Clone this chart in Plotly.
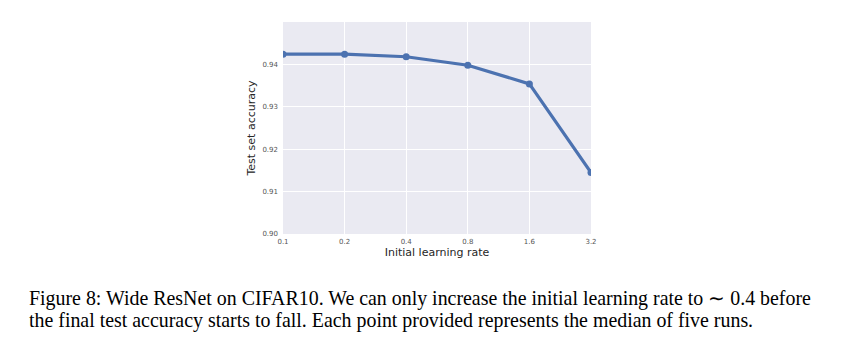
import plotly.graph_objects as go

# Median test accuracy over five runs for each initial learning rate
learning_rates = [0.1, 0.2, 0.4, 0.8, 1.6, 3.2]
test_accuracy = [0.9424, 0.9424, 0.9418, 0.9398, 0.9354, 0.9145]
x_tick_labels = ["0.1", "0.2", "0.4", "0.8", "1.6", "3.2"]
y_tick_values = [0.90, 0.91, 0.92, 0.93, 0.94]
y_tick_labels = ["0.90", "0.91", "0.92", "0.93", "0.94"]

caption_lines = [
    "Figure 8: Wide ResNet on CIFAR10. We can only increase the initial learning rate to \u223c 0.4 before",
    "the final test accuracy starts to fall. Each point provided represents the median of five runs.",
]

W, H = 855, 347
L, R, T, B = 283, 264, 22, 113

fig = go.Figure()
fig.add_trace(go.Scatter(
    x=learning_rates, y=test_accuracy,
    mode="lines+markers",
    line=dict(color="#4C72B0", width=3.2),
    marker=dict(color="#4C72B0", size=7),
    cliponaxis=True,
    showlegend=False,
))

axis_font = dict(family="DejaVu Sans", size=7, color="#555555")
fig.update_xaxes(
    type="log", range=[-1, 0.50515],
    tickvals=learning_rates, ticktext=x_tick_labels,
    showgrid=True, gridcolor="white", gridwidth=1,
    zeroline=False, showline=False, ticks="",
    tickfont=axis_font, ticklabelstandoff=2,
    title=dict(text="Initial learning rate", font=dict(family="DejaVu Sans", size=11, color="#262626"), standoff=2),
)
fig.update_yaxes(
    range=[0.90, 0.95],
    tickvals=y_tick_values, ticktext=y_tick_labels,
    showgrid=True, gridcolor="white", gridwidth=1,
    zeroline=False, showline=False, ticks="",
    tickfont=axis_font, ticklabelstandoff=4,
    title=dict(text="Test set accuracy", font=dict(family="DejaVu Sans", size=11, color="#262626"), standoff=4),
)

for i, line in enumerate(caption_lines):
    fig.add_annotation(
        text=line, xref="paper", yref="paper",
        x=(27 - L) / (W - L - R), y=(H - B - (298 + 22 * i)) / (H - T - B),
        xanchor="left", yanchor="middle", showarrow=False,
        font=dict(family="Liberation Serif", size=19.9, color="black"),
    )

fig.update_layout(
    width=W, height=H,
    margin=dict(l=L, r=R, t=T, b=B),
    plot_bgcolor="#EAEAF2", paper_bgcolor="white",
)

fig.write_html("out.html")
